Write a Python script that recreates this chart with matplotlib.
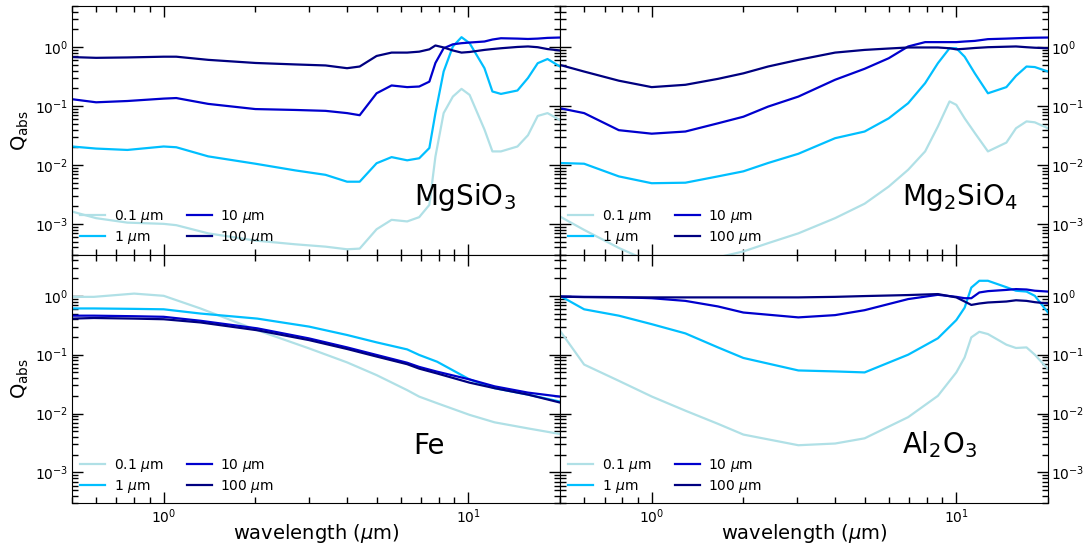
import matplotlib
matplotlib.use('Agg')
import matplotlib.pyplot as plt
from matplotlib.ticker import NullFormatter

# grain sizes and their line colours
sizes = ['0.1', '1', '10', '100']
size_colors = ['powderblue', 'deepskyblue', 'mediumblue', 'navy']

# MgSiO3
lam_mgsio3 = [0.5, 0.6, 0.76, 1.0, 1.1, 1.4, 2.0, 2.7, 3.4, 4.0, 4.4, 5.0, 5.6, 6.3, 6.9,
              7.45, 7.8, 8.3, 8.9, 9.5, 10.1, 11.3, 12.0, 12.8, 14.5, 15.7, 16.9, 18.2, 20.0]
q_mgsio3_01 = [0.00162, 0.00125, 0.00105, 0.00100, 0.00095, 0.00069, 0.00052, 0.00045, 0.00041,
               0.00037, 0.00038, 0.00081, 0.00117, 0.00110, 0.0013, 0.0021, 0.0139, 0.076, 0.145,
               0.196, 0.155, 0.040, 0.017, 0.017, 0.0206, 0.032, 0.068, 0.076, 0.058]
q_mgsio3_1 = [0.0206, 0.019, 0.018, 0.0206, 0.020, 0.014, 0.0105, 0.0081, 0.0068, 0.0052, 0.0052,
              0.0107, 0.0136, 0.012, 0.013, 0.0194, 0.076, 0.387, 1.03, 1.48, 1.17, 0.44, 0.177,
              0.161, 0.184, 0.30, 0.535, 0.63, 0.47]
q_mgsio3_10 = [0.131, 0.116, 0.122, 0.134, 0.137, 0.109, 0.089, 0.086, 0.083, 0.076, 0.070, 0.165,
               0.224, 0.21, 0.215, 0.26, 0.54, 0.96, 1.12, 1.17, 1.20, 1.25, 1.35, 1.42, 1.40,
               1.38, 1.40, 1.44, 1.46]
q_mgsio3_100 = [0.68, 0.66, 0.67, 0.69, 0.69, 0.61, 0.54, 0.51, 0.49, 0.44, 0.47, 0.71, 0.81, 0.81,
                0.84, 0.92, 1.07, 0.99, 0.88, 0.81, 0.83, 0.90, 0.93, 0.96, 1.01, 1.03, 1.0, 0.93,
                0.88]

# Mg2SiO4
lam_mg2sio4 = [0.5, 0.6, 0.78, 1.0, 1.29, 1.65, 2.0, 2.41, 3.03, 4.0, 5.0, 6.0, 6.95, 7.9, 8.7,
               9.5, 10.0, 10.65, 11.5, 12.7, 14.6, 15.7, 17.0, 18.1, 20.0]
q_mg2sio4_01 = [0.00133, 0.00079, 0.00039, 0.00022, 0.00020, 0.00027, 0.00034, 0.00047, 0.00069,
                0.00125, 0.0022, 0.0043, 0.0083, 0.017, 0.045, 0.12, 0.105, 0.062, 0.035, 0.017,
                0.024, 0.042, 0.055, 0.053, 0.042]
q_mg2sio4_1 = [0.0108, 0.0105, 0.0064, 0.0049, 0.0050, 0.0064, 0.0078, 0.0108, 0.0155, 0.0285,
               0.037, 0.062, 0.112, 0.245, 0.535, 0.96, 0.96, 0.69, 0.36, 0.165, 0.21, 0.326,
               0.47, 0.46, 0.386]
q_mg2sio4_10 = [0.092, 0.076, 0.039, 0.034, 0.037, 0.051, 0.066, 0.098, 0.145, 0.28, 0.43, 0.65,
                1.03, 1.22, 1.22, 1.22, 1.22, 1.25, 1.28, 1.37, 1.40, 1.42, 1.44, 1.45, 1.46]
q_mg2sio4_100 = [0.50, 0.386, 0.27, 0.21, 0.23, 0.29, 0.36, 0.47, 0.61, 0.81, 0.90, 0.95, 0.99,
                 0.99, 0.99, 0.96, 0.92, 0.94, 0.97, 1.0, 1.02, 1.03, 1.0, 0.98, 0.96]

# Fe
lam_fe = [0.5, 0.59, 0.8, 1.0, 1.32, 2.03, 3.0, 4.0, 5.0, 6.3, 6.9, 7.9, 10.1, 12.2, 15.7, 20.0]
q_fe_01 = [0.96, 0.96, 1.09, 1.0, 0.61, 0.26, 0.128, 0.074, 0.045, 0.025, 0.0194, 0.015, 0.0095,
           0.0071, 0.0056, 0.0045]
q_fe_1 = [0.61, 0.61, 0.60, 0.59, 0.50, 0.41, 0.30, 0.216, 0.162, 0.123, 0.099, 0.076, 0.038,
          0.027, 0.021, 0.016]
q_fe_10 = [0.46, 0.46, 0.45, 0.44, 0.377, 0.28, 0.189, 0.133, 0.099, 0.073, 0.062, 0.0515, 0.038,
           0.029, 0.0227, 0.0194]
q_fe_100 = [0.41, 0.42, 0.41, 0.40, 0.353, 0.26, 0.177, 0.125, 0.093, 0.069, 0.058, 0.048, 0.0335,
            0.027, 0.021, 0.0154]

# Al2O3
lam_al2o3 = [0.5, 0.6, 0.78, 1.0, 1.29, 1.65, 2.0, 3.03, 4.0, 5.0, 6.95, 8.7, 10.0, 10.65, 11.2,
             11.9, 12.7, 14.6, 15.7, 17.0, 18.1, 20.0]
q_al2o3_01 = [0.255, 0.068, 0.036, 0.0195, 0.0112, 0.0067, 0.0044, 0.0029, 0.0031, 0.0038, 0.0087,
              0.020, 0.050, 0.090, 0.197, 0.245, 0.224, 0.148, 0.13, 0.133, 0.10, 0.057]
q_al2o3_1 = [1.0, 0.59, 0.46, 0.33, 0.23, 0.133, 0.088, 0.054, 0.052, 0.050, 0.10, 0.19, 0.387,
             0.63, 1.38, 1.8, 1.8, 1.4, 1.22, 1.18, 1.0, 0.52]
q_al2o3_10 = [0.97, 0.96, 0.95, 0.91, 0.82, 0.66, 0.52, 0.43, 0.47, 0.57, 0.88, 1.04, 0.96, 0.91,
              0.91, 1.14, 1.2, 1.26, 1.30, 1.28, 1.22, 1.18]
q_al2o3_100 = [0.97, 0.95, 0.94, 0.94, 0.94, 0.94, 0.94, 0.94, 0.96, 0.99, 1.03, 1.07, 0.94, 0.80,
               0.70, 0.74, 0.77, 0.80, 0.84, 0.82, 0.78, 0.74]

panels = [
    ('MgSiO$_3$', lam_mgsio3, [q_mgsio3_01, q_mgsio3_1, q_mgsio3_10, q_mgsio3_100]),
    ('Mg$_2$SiO$_4$', lam_mg2sio4, [q_mg2sio4_01, q_mg2sio4_1, q_mg2sio4_10, q_mg2sio4_100]),
    ('Fe', lam_fe, [q_fe_01, q_fe_1, q_fe_10, q_fe_100]),
    ('Al$_2$O$_3$', lam_al2o3, [q_al2o3_01, q_al2o3_1, q_al2o3_10, q_al2o3_100]),
]

fig, axes = plt.subplots(2, 2, figsize=(10.84, 5.5), dpi=100, sharex=True, sharey=True)
fig.subplots_adjust(left=0.0664, right=0.9668, top=0.989, bottom=0.085, wspace=0, hspace=0)

for i, (ax, (name, lam, qs)) in enumerate(zip(axes.flat, panels)):
    for q, size, color in zip(qs, sizes, size_colors):
        ax.plot(lam, q, color=color, lw=1.6, label=size + r' $\mu$m')
    ax.set_xscale('log')
    ax.set_yscale('log')
    ax.set_xlim(0.5, 20)
    ax.set_ylim(3e-4, 5)
    ax.xaxis.set_minor_formatter(NullFormatter())
    ax.yaxis.set_minor_formatter(NullFormatter())

    row, col = divmod(i, 2)
    ax.tick_params(which='both', direction='in', top=True, bottom=True, left=True, right=True,
                   labelsize=10, labelleft=(col == 0), labelright=(col == 1),
                   labelbottom=(row == 1))
    ax.tick_params(which='major', length=8, width=1)
    ax.tick_params(which='minor', length=4.5, width=1)
    ax.tick_params(axis='y', which='both', pad=2.5)
    ax.tick_params(axis='x', which='both', pad=3)

    ax.text(0.7, 0.2, name, transform=ax.transAxes, fontsize=20, ha='left', va='baseline')
    ax.legend(loc='lower left', ncol=2, frameon=False, fontsize=10, handlelength=1.8,
              handletextpad=0.6, columnspacing=1.7, labelspacing=0.3, borderaxespad=0.2)

    if col == 0:
        ax.set_ylabel(r'Q$_{\rm abs}$', fontsize=14, labelpad=3)
    if row == 1:
        ax.set_xlabel(r'wavelength ($\mu$m)', fontsize=14, labelpad=-3)

fig.savefig('out.png', dpi=100)
